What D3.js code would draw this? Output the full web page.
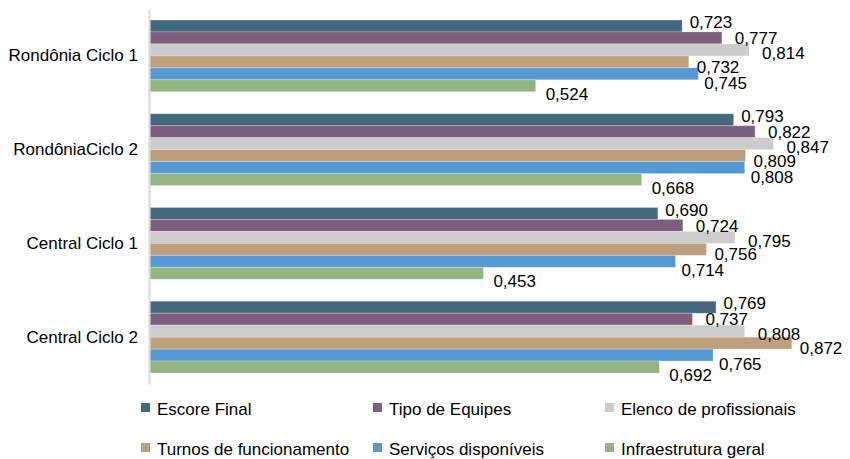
<!DOCTYPE html>
<html>
<head>
<meta charset="utf-8">
<script src="https://cdn.jsdelivr.net/npm/d3@7"></script>
<style>
  body { margin: 0; background: #fff; }
  svg text { font-family: "Liberation Sans", Arial, sans-serif; fill: #000; }
</style>
</head>
<body>
<div class="chart"></div>
<script>
const FRAME_WIDTH = 850;
const FRAME_HEIGHT = 459;

// data
const CATEGORIES = ["Rondônia Ciclo 1", "RondôniaCiclo 2", "Central Ciclo 1", "Central Ciclo 2"];
const SERIES = ["Escore Final", "Tipo de Equipes", "Elenco de profissionais",
                "Turnos de funcionamento", "Serviços disponíveis", "Infraestrutura geral"];
const ESCORE_FINAL = [0.723, 0.793, 0.690, 0.769];
const TIPO_EQUIPES = [0.777, 0.822, 0.724, 0.737];
const ELENCO = [0.814, 0.847, 0.795, 0.808];
const TURNOS = [0.732, 0.809, 0.756, 0.872];
const SERVICOS = [0.745, 0.808, 0.714, 0.765];
const INFRA = [0.524, 0.668, 0.453, 0.692];
const VALUES = [ESCORE_FINAL, TIPO_EQUIPES, ELENCO, TURNOS, SERVICOS, INFRA];

const COLORS = ["#44687e", "#7d5f7d", "#cccccc", "#bd9f7b", "#5799d5", "#93b583"];
// value labels sit a bit off the bar end, per series (like the original)
const LABEL_DX = [7.5, 13, 13, 8, 6, 10];
const LABEL_DY = [-4, 0, 3, 5, 9, 8];

const SVG = d3.select(".chart")
              .append("svg")
              .attr("width", FRAME_WIDTH)
              .attr("height", FRAME_HEIGHT);

const X_SCALE = d3.scaleLinear()
                  .domain([0, 1])
                  .range([150, 886]);

const Y_GROUP = d3.scaleBand()
                  .domain(CATEGORIES)
                  .range([9, 384]);

const Y_BAR = d3.scaleBand()
                .domain(SERIES)
                .range([0, Y_GROUP.bandwidth()])
                .paddingOuter(0.92);

const rows = [];
CATEGORIES.forEach((c, i) => {
    SERIES.forEach((s, j) => {
        rows.push({cat: c, series: s, idx: j, value: VALUES[j][i]});
    });
});

// bars
SVG.append("g")
   .selectAll("rect")
   .data(rows)
   .enter()
   .append("rect")
     .attr("x", X_SCALE(0))
     .attr("y", (d) => Y_GROUP(d.cat) + Y_BAR(d.series))
     .attr("width", (d) => X_SCALE(d.value) - X_SCALE(0))
     .attr("height", Y_BAR.bandwidth())
     .attr("fill", (d) => COLORS[d.idx])
     .attr("stroke", "#fff")
     .attr("stroke-opacity", 0.3)
     .attr("stroke-width", 0.8);

// value labels
SVG.append("g")
   .selectAll("text")
   .data(rows)
   .enter()
   .append("text")
     .attr("x", (d) => X_SCALE(d.value) + LABEL_DX[d.idx])
     .attr("y", (d) => Y_GROUP(d.cat) + Y_BAR(d.series) + Y_BAR.bandwidth() / 2 + LABEL_DY[d.idx])
     .attr("dy", "0.36em")
     .attr("font-size", "17px")
     .text((d) => d3.format(".3f")(d.value).replace(".", ","));

// left axis
const Y_AXIS = SVG.append("g")
    .attr("transform", "translate(149,0)")
    .call(d3.axisLeft(Y_GROUP).tickSize(0).tickPadding(11));
Y_AXIS.select(".domain")
    .attr("stroke", "#d9d9d9")
    .attr("stroke-width", 2);
Y_AXIS.selectAll("text")
    .attr("font-size", "17px")
    .attr("font-family", "Liberation Sans, Arial, sans-serif")
    .attr("fill", "#000");

// legend
const LEGEND_X = d3.scalePoint().domain([0, 1, 2]).range([141, 605]);
const LEGEND_Y = d3.scalePoint().domain([0, 1]).range([415, 455]);

const LEGEND = SVG.append("g")
    .selectAll("g")
    .data(SERIES)
    .enter()
    .append("g")
      .attr("transform", (d, i) => "translate(" + LEGEND_X(i % 3) + "," + LEGEND_Y(Math.floor(i / 3)) + ")");

LEGEND.append("rect")
    .attr("x", 0)
    .attr("y", -12)
    .attr("width", 9)
    .attr("height", 9)
    .attr("fill", (d, i) => COLORS[i]);

LEGEND.append("text")
    .attr("x", 16)
    .attr("y", 0)
    .attr("font-size", "17px")
    .text((d) => d);
</script>
</body>
</html>
